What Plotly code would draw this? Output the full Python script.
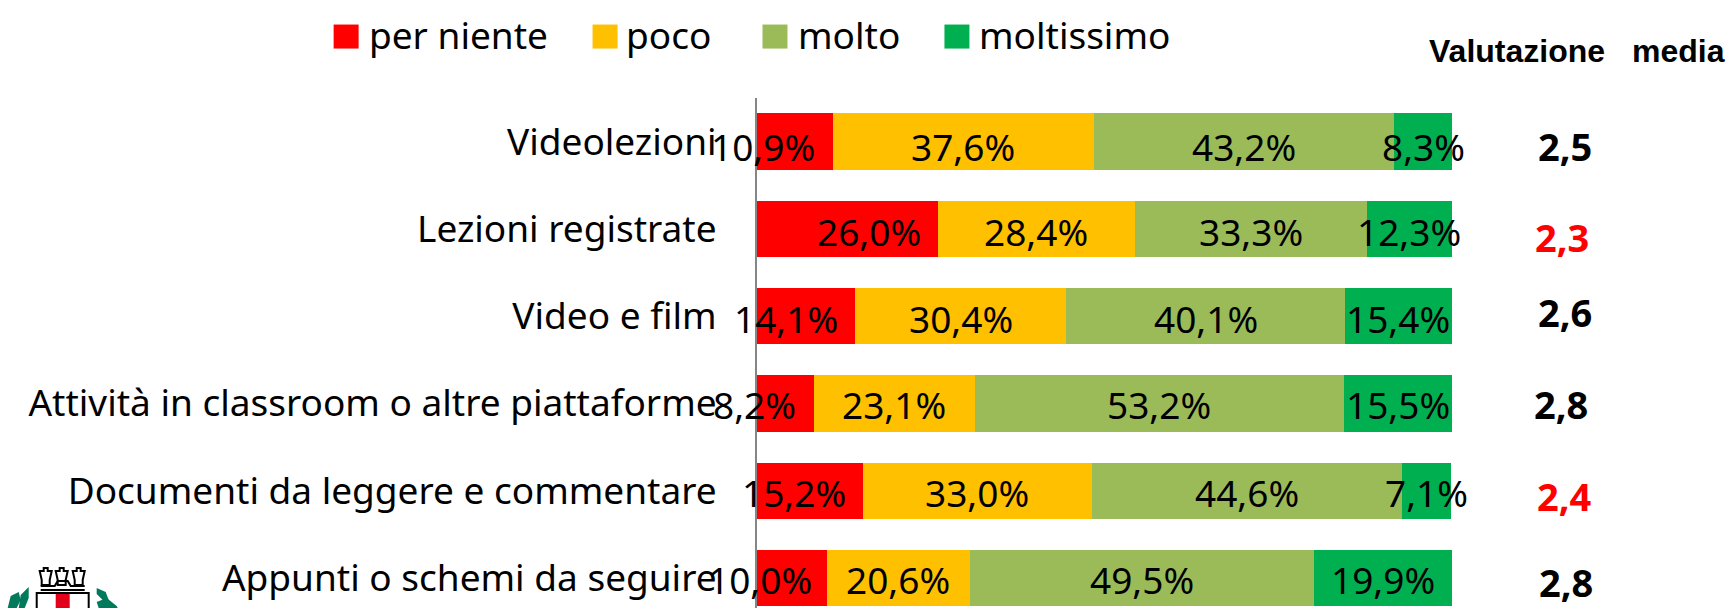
import plotly.graph_objects as go

categories = ["Videolezioni", "Lezioni registrate", "Video e film",
              "Attività in classroom o altre piattaforme",
              "Documenti da leggere e commentare", "Appunti o schemi da seguire"]
per_niente = [10.9, 26.0, 14.1, 8.2, 15.2, 10.0]
poco = [37.6, 28.4, 30.4, 23.1, 33.0, 20.6]
molto = [43.2, 33.3, 40.1, 53.2, 44.6, 49.5]
moltissimo = [8.3, 12.3, 15.4, 15.5, 7.1, 19.9]
medie = ["2,5", "2,3", "2,6", "2,8", "2,4", "2,8"]
series_names = ["per niente", "poco", "molto", "moltissimo"]

colors = ["#FF0000", "#FFC000", "#9BBB59", "#00B050"]
series = [per_niente, poco, molto, moltissimo]
W, H = 1727, 608
L, R, T, B = 756.5, 1727 - 1451.7, 98.4, 0
pw, ph = W - L - R, H - T - B
fx = lambda p: (p - L) / pw
fy = lambda p: 1 - (p - T) / ph
BODY = "Noto Sans"
LBL = 37
fig = go.Figure()
for name, vals, c in zip(series_names, series, colors):
    fig.add_trace(go.Bar(y=categories, x=vals, name=name, orientation="h",
                         marker=dict(color=c, line=dict(width=0)), showlegend=False,
                         hovertemplate="%{y}: %{x}%<extra>" + name + "</extra>"))

first_shift = [-32, 22, -20, -31, -16, -32]
label_yshift = [-5, -3, -2, -1, -2, -2]
anns = []
for i, cat in enumerate(categories):
    cum = 0
    for s, vals in enumerate(series):
        v = vals[i]
        anns.append(dict(x=cum + v / 2, y=cat, xref="x", yref="y", showarrow=False,
                         text=f"{v:.1f}%".replace(".", ","),
                         font=dict(family=BODY, size=LBL, color="black"),
                         xshift=first_shift[i] if s == 0 else 0, yshift=label_yshift[i]))
        cum += v

mean_x = [1565, 1562, 1565, 1561, 1564, 1566]
mean_yshift = [-4, -8, 4, -1, -5, -4]
mean_col = ["black", "#FF0000", "black", "black", "#FF0000", "black"]
for i, cat in enumerate(categories):
    anns.append(dict(x=fx(mean_x[i]), y=cat, xref="paper", yref="y", showarrow=False,
                     text=medie[i], yshift=mean_yshift[i], xanchor="center", yanchor="middle",
                     font=dict(family=BODY, size=38, color=mean_col[i], weight="bold")))

for txt, xc in (("Valutazione", 1517), ("media", 1678)):
    anns.append(dict(x=fx(xc), y=fy(51), xref="paper", yref="paper", showarrow=False, text=txt,
                     xanchor="center", yanchor="middle",
                     font=dict(family="Liberation Sans", size=32, color="black", weight="bold")))

shapes = []
sw_x = [333, 592, 762, 944]
txt_x = [366, 623, 796, 977]
for sx, tx, n, c in zip(sw_x, txt_x, series_names, colors):
    shapes.append(dict(type="rect", xref="paper", yref="paper", x0=fx(sx), x1=fx(sx + 25),
                       y0=fy(49), y1=fy(25), fillcolor=c, line=dict(width=0)))
    anns.append(dict(x=fx(tx), y=fy(35), xref="paper", yref="paper", showarrow=False, text=n,
                     xanchor="left", yanchor="middle", font=dict(family=BODY, size=LBL, color="black")))

def path(pts, close=True):
    return "M" + "L".join(f"{fx(x):.5f},{fy(y):.5f}" for x, y in pts) + ("Z" if close else "")

def logo_shape(pts, fill=None, lw=0, lc="black", close=True):
    shapes.append(dict(type="path", xref="paper", yref="paper", path=path(pts, close),
                       fillcolor=fill if fill else "rgba(0,0,0,0)", line=dict(width=lw, color=lc)))

logo_shape([(36, 608), (36, 593), (88, 593), (88, 608)], lw=2, close=False)
logo_shape([(55, 594), (69, 594), (69, 608), (55, 608)], fill="#E2001A")
logo_shape([(40, 590), (84, 590)], lw=2)
logo_shape([(40, 586), (54, 586), (57, 581), (67, 581), (70, 586), (84, 586)], lw=2, close=False)
for x0 in (39, 55, 72):
    logo_shape([(x0, 571), (x0 + 4, 571), (x0 + 4, 568), (x0 + 8, 568), (x0 + 8, 571), (x0 + 12, 571),
                (x0 + 10, 580), (x0 + 10, 585), (x0 + 2, 585), (x0 + 2, 580)], lw=2, close=True)
logo_shape([(7, 608), (10, 596), (18, 592), (20, 600), (16, 608)], fill="#00795C")
logo_shape([(18, 608), (20, 595), (28, 587), (28, 598), (24, 608)], fill="#00795C")
logo_shape([(96, 588), (105, 592), (108, 600), (102, 600), (96, 594)], fill="#00795C")
logo_shape([(96, 602), (106, 598), (116, 606), (117, 608), (98, 608)], fill="#00795C")

fig.update_layout(
    width=W, height=H, barmode="stack", bargap=0.355, paper_bgcolor="white", plot_bgcolor="white",
    margin=dict(l=L, r=R, t=T, b=B, autoexpand=False), annotations=anns, shapes=shapes,
    font=dict(family=BODY, color="black"),
    xaxis=dict(range=[0, 100], visible=False),
    yaxis=dict(type="category", categoryorder="array", categoryarray=categories,
               range=[5.344, -0.5], showline=True, linecolor="#868686", linewidth=2,
               ticks="", ticklabelstandoff=31, showgrid=False, zeroline=False,
               tickfont=dict(family=BODY, size=LBL, color="black")),
)
fig.write_html("out.html", config={"displayModeBar": False},
               post_script="document.body.style.margin='0';document.documentElement.style.overflow='hidden';")
